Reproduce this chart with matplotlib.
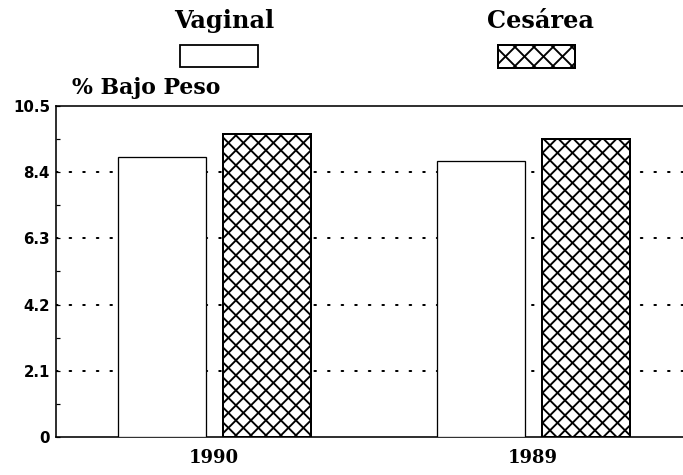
import matplotlib
matplotlib.use("Agg")
import matplotlib.pyplot as plt
from matplotlib.patches import Rectangle
from matplotlib.collections import LineCollection
from matplotlib.transforms import IdentityTransform
import numpy as np

# === Data
years = ["1990", "1989"]
vaginal = [8.89, 8.76]
cesarea = [9.62, 9.46]
y_ticks = [0, 2.1, 4.2, 6.3, 8.4, 10.5]
y_tick_labels = ["0", "2.1", "4.2", "6.3", "8.4", "10.5"]


def cross_hatch(rect, spacing, lw, parent, zorder):
    # draw a diagonal cross hatch clipped to the rectangle (pixel spacing)
    bb = rect.get_window_extent()
    h = bb.y1 - bb.y0
    segs = []
    for c in np.arange(bb.x0 - h, bb.x1 + spacing, spacing):
        segs.append([(c, bb.y0), (c + h, bb.y1)])
        segs.append([(c + h, bb.y0), (c, bb.y1)])
    lc = LineCollection(segs, colors='black', linewidths=lw,
                        transform=IdentityTransform(), zorder=zorder)
    if parent is None:
        fig.add_artist(lc)
    else:
        parent.add_collection(lc, autolim=False)
    lc.set_clip_path(rect)


# dpi 72 -> 1pt == 1px
fig = plt.figure(figsize=(683 / 72, 475 / 72), dpi=72)
ax = fig.add_axes([0.082, 0.080, 0.918, 0.697])

ax.set_xlim(-0.495, 1.47)
ax.set_ylim(0, 10.5)

x = np.arange(len(years))
w = 0.276
ax.bar(x - 0.163, vaginal, width=w, color='white', edgecolor='black',
       linewidth=1.3, zorder=3)
ces_bars = ax.bar(x + 0.165, cesarea, width=w, color='white', edgecolor='black',
                  linewidth=2.0, zorder=3)
for b in ces_bars:
    cross_hatch(b, 15, 1.9, ax, 3.5)

# dotted grid behind bars
for yv in y_ticks[1:-1]:
    ax.axhline(yv, color='black', linestyle=(0, (0.8, 6)), linewidth=2.0,
               dash_capstyle='round', zorder=1)

ax.set_yticks(y_ticks)
ax.set_yticklabels(y_tick_labels, fontsize=15, fontweight='bold')
ax.set_yticks(np.arange(1.05, 10.5, 2.1), minor=True)
ax.tick_params(axis='y', which='major', direction='in', length=4, width=1.2, pad=6)
ax.tick_params(axis='y', which='minor', direction='in', length=4, width=1.2)
ax.set_xticks(x)
ax.set_xticklabels(years, fontsize=18, fontweight='bold', family='DejaVu Serif')
ax.tick_params(axis='x', length=0, pad=12)

ax.spines['right'].set_visible(False)
for s in ['left', 'top', 'bottom']:
    ax.spines[s].set_linewidth(1.6)

# axis title
fig.text(0.105, 0.815, "% Bajo Peso", fontsize=22, fontweight='bold',
         family='DejaVu Serif', va='center', ha='left')

# legend
fig.text(0.328, 0.956, "Vaginal", fontsize=24, fontweight='bold',
         family='DejaVu Serif', ha='center', va='center')
fig.text(0.791, 0.956, "Cesárea", fontsize=24, fontweight='bold',
         family='DejaVu Serif', ha='center', va='center')
fig.add_artist(Rectangle((180 / 683, 1 - 67 / 475), 78 / 683, 22 / 475,
                         transform=fig.transFigure, facecolor='white',
                         edgecolor='black', linewidth=1.8))
leg_ces = Rectangle((498 / 683, 1 - 68 / 475), 77 / 683, 23 / 475,
                    transform=fig.transFigure, facecolor='white',
                    edgecolor='black', linewidth=2.0, zorder=2)
fig.add_artist(leg_ces)
cross_hatch(leg_ces, 19, 1.9, None, 2.5)

fig.savefig("out.png", dpi=72)
